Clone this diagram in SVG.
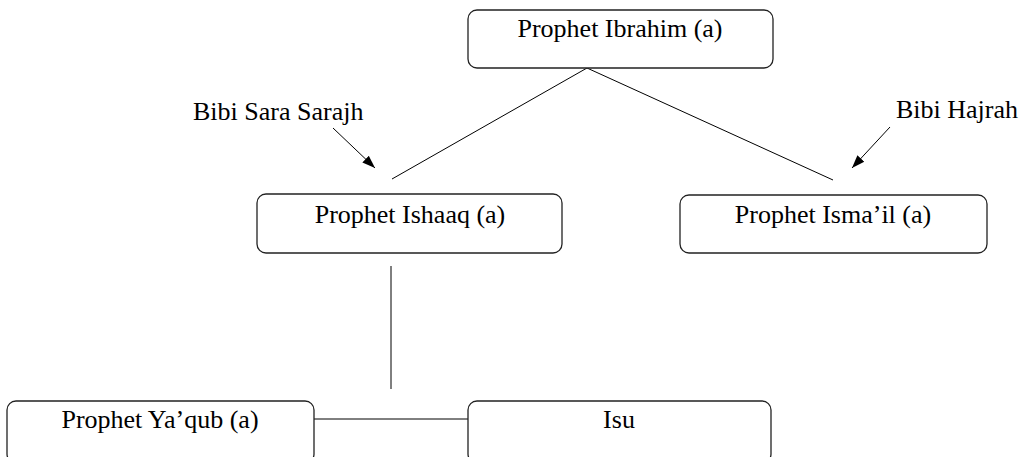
<svg xmlns="http://www.w3.org/2000/svg" width="1021" height="457" viewBox="0 0 1021 457">
<style>
.box{fill:#fff;stroke:#222;stroke-width:1.3}
.t{font-family:"Liberation Serif","Times New Roman",serif;font-size:26px;fill:#000}
.c{text-anchor:middle}
.ln{stroke:#000;stroke-width:1;fill:none}
</style>
<defs>
<marker id="ah" viewBox="0 0 10 10" refX="10" refY="5" markerWidth="13" markerHeight="13" markerUnits="userSpaceOnUse" orient="auto">
<path d="M0,1.4 L10,5 L0,8.6 z" fill="#000"/>
</marker>
</defs>
<rect width="1021" height="457" fill="#fff"/>
<g id="connectors">
<polyline class="ln" points="392,179 587,68 833,180"/>
<line class="ln" x1="391" y1="266" x2="391" y2="389"/>
<line class="ln" x1="314" y1="419" x2="468" y2="419"/>
<line class="ln" x1="333" y1="128" x2="375" y2="168" marker-end="url(#ah)"/>
<line class="ln" x1="890" y1="127" x2="852" y2="168" marker-end="url(#ah)"/>
</g>
<g id="label-sara"><text class="t" x="193" y="120">Bibi Sara Sarajh</text></g>
<g id="label-hajrah"><text class="t" x="896" y="118">Bibi Hajrah</text></g>
<g id="node-ibrahim">
<rect class="box" x="468" y="10" width="305" height="58" rx="9"/>
<text class="t c" x="620" y="37">Prophet Ibrahim (a)</text>
</g>
<g id="node-ishaaq">
<rect class="box" x="257" y="194" width="305" height="59" rx="9"/>
<text class="t c" x="410" y="223">Prophet Ishaaq (a)</text>
</g>
<g id="node-ismail">
<rect class="box" x="680" y="195" width="307" height="58" rx="9"/>
<text class="t c" x="833" y="223">Prophet Isma’il (a)</text>
</g>
<g id="node-yaqub">
<rect class="box" x="7" y="401" width="307" height="62" rx="9"/>
<text class="t c" x="160" y="428">Prophet Ya’qub (a)</text>
</g>
<g id="node-isu">
<rect class="box" x="468" y="401" width="303" height="62" rx="9"/>
<text class="t c" x="619" y="428">Isu</text>
</g>
</svg>
